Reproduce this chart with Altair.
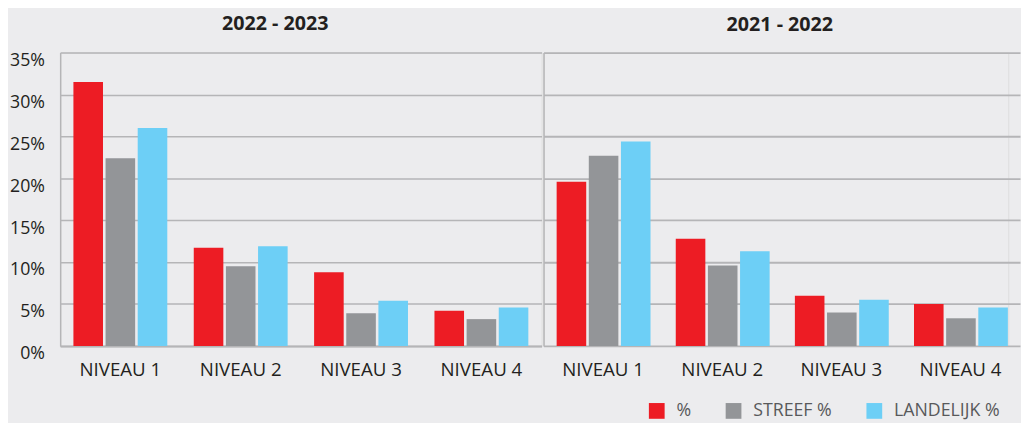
import altair as alt
import pandas as pd

periods = ["2022 - 2023", "2021 - 2022"]
niveaus = ["NIVEAU 1", "NIVEAU 2", "NIVEAU 3", "NIVEAU 4"]
series = ["%", "STREEF %", "LANDELIJK %"]
colors = ["#ed1c24", "#939598", "#6dcff6"]

pct_2223 = [31.5, 11.7, 8.8, 4.2]
streef_2223 = [22.4, 9.5, 3.9, 3.2]
landelijk_2223 = [26.0, 11.9, 5.4, 4.6]

pct_2122 = [19.6, 12.8, 6.0, 5.0]
streef_2122 = [22.7, 9.6, 4.0, 3.3]
landelijk_2122 = [24.4, 11.3, 5.5, 4.6]

y_ticks = [0, 0.05, 0.10, 0.15, 0.20, 0.25, 0.30, 0.35]

rows = []
for period, vals in [
    ("2022 - 2023", [pct_2223, streef_2223, landelijk_2223]),
    ("2021 - 2022", [pct_2122, streef_2122, landelijk_2122]),
]:
    for s, arr in zip(series, vals):
        for n, v in zip(niveaus, arr):
            rows.append({"period": period, "niveau": n, "series": s, "value": v / 100})
df = pd.DataFrame(rows)

FONT = "Open Sans"
TXT = "#231f20"
GRID = "#b5b5b7"


def panel(period, first, width, rng, title_dx, title_offset):
    y_axis = alt.Axis(
        format=".0%", values=y_ticks, title=None, ticks=False,
        labels=first, labelFontSize=18, labelColor=TXT, labelPadding=16,
        labelBaseline="top", labelOffset=-1,
        domain=True, domainColor=GRID, domainWidth=1.5,
        grid=True, gridColor=GRID, gridWidth=1.8 if not first else 1.5,
        minExtent=51 if first else 0, maxExtent=51 if first else 0,
    )
    x_axis = alt.Axis(
        title=None, labelAngle=0, labelFontSize=19, labelColor=TXT,
        labelPadding=15, ticks=False, domain=first, domainColor=GRID, domainWidth=2,
    )
    return (
        alt.Chart(df)
        .transform_filter(alt.datum.period == period)
        .mark_bar()
        .encode(
            x=alt.X("niveau:N", sort=niveaus, axis=x_axis,
                    scale=alt.Scale(paddingInner=0.22, paddingOuter=0.11, range=[0, rng])),
            xOffset=alt.XOffset("series:N", sort=series,
                                scale=alt.Scale(paddingInner=0.08)),
            y=alt.Y("value:Q", scale=alt.Scale(domain=[0, 0.35]), axis=y_axis),
            color=alt.Color(
                "series:N", sort=series,
                scale=alt.Scale(domain=series, range=colors),
                legend=alt.Legend(
                    title=None, orient="none", direction="horizontal",
                    legendX=597, legendY=355,
                    symbolType="square", symbolSize=256, symbolStrokeWidth=0,
                    labelFontSize=18, labelColor="#58595b", labelOffset=11,
                    columnPadding=34,
                ),
            ),
        )
        .properties(
            width=width, height=298,
            title=alt.TitleParams(period, dx=title_dx, fontSize=20, fontWeight="bold",
                                  color=TXT, font=FONT, offset=title_offset),
        )
    )


chart = (
    alt.hconcat(
        panel(periods[0], True, 489, 489, -26, 18),
        panel(periods[1], False, 472, 484, 4, 18),
        spacing=0,
    )
    .properties(background="#ececee", padding={"left": 1, "top": 2, "right": 0, "bottom": 0})
    .configure_view(strokeWidth=0)
    .configure(font=FONT)
)

chart.save("out.html", embed_options={"renderer": "svg", "actions": False})
